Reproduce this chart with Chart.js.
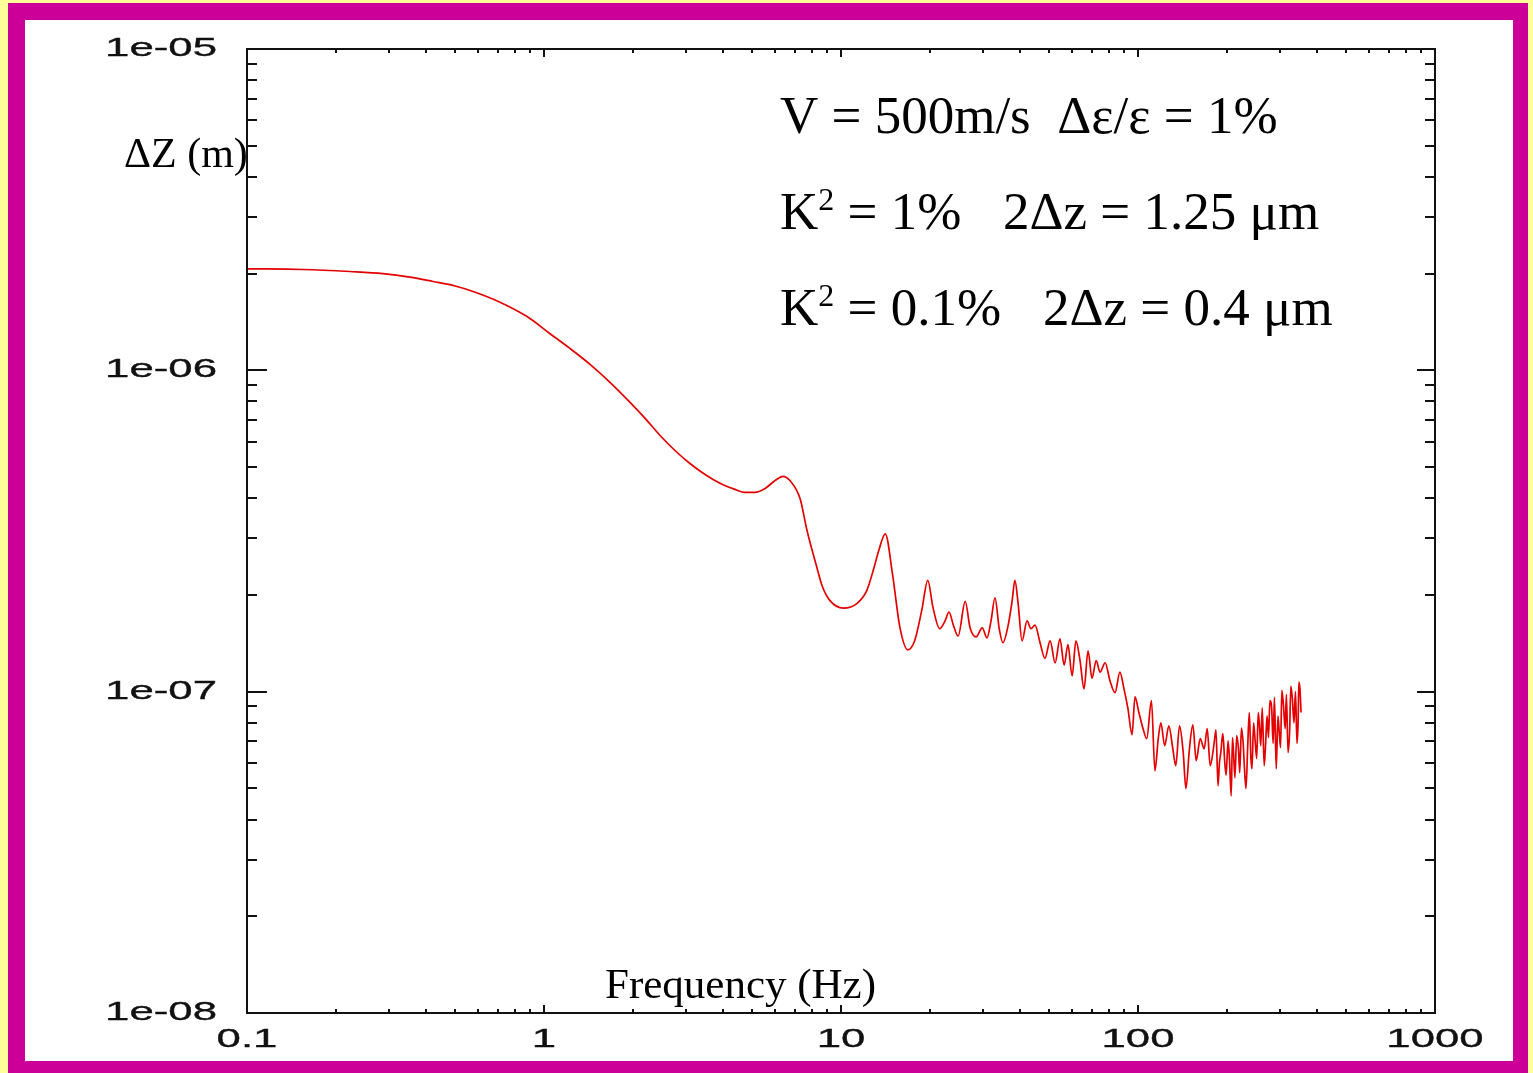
<!DOCTYPE html>
<html>
<head>
<meta charset="utf-8">
<script src="https://cdn.jsdelivr.net/npm/chart.js@4.4.1/dist/chart.umd.min.js"></script>
<style>
  html, body { margin: 0; padding: 0; background: #ffff99; overflow: hidden; }
  #frame { position: absolute; left: 8px; top: 3px; width: 1488px; height: 1041px;
           border: 17px solid #cc0099; border-right-width: 15px; background: #fff; }
  #chart { position: absolute; left: 0; top: 0; }
</style>
</head>
<body>
<div id="frame"></div>
<canvas id="chart" width="1533" height="1073"></canvas>
<script>
// frekuensi (Hz) dan amplitudo dZ (m)
const freqHz = [
  0.1, 0.154, 0.222, 0.287, 0.354, 0.423, 0.502, 0.577, 0.711, 0.877,
  1.048, 1.223, 1.429, 1.668, 1.949, 2.19, 2.46, 2.76, 3.10, 3.486,
  3.914, 4.396, 4.75, 5.13, 5.55, 6.0, 6.38, 6.73, 7.28,
  7.68, 8.30, 8.63, 9.18, 10.2, 11.3, 12.2, 12.9, 13.4, 14.1,
  14.9, 15.8, 16.8, 17.7, 18.7, 19.6, 20.4, 21.5, 22.4, 23.1,
  23.9, 24.8, 26.2, 27.2, 28.5, 29.9, 31.0, 32.0, 33.0, 34.1,
  35.1, 36.5, 37.7, 38.5, 39.5, 40.7, 42.3, 43.6, 45.0, 46.8,
  48.6, 50.6, 52.6, 54.6, 56.4, 58.1, 60.0, 61.8, 63.8, 65.8,
  67.9, 70.0, 72.3, 74.5, 77.5, 80.5, 83.7, 86.9, 89.7, 92.5,
  95.5, 97.7, 100.7, 104, 107, 111, 114, 117, 119.4, 123,
  127, 131, 134, 138, 142, 145, 149, 153, 157, 162,
  167, 171, 175, 180, 183, 186, 188, 190, 193, 196,
  198, 201, 203, 206, 208, 210, 212, 215, 218, 220,
  223, 226, 228, 231, 234, 237, 240, 242, 245, 248,
  251, 254, 257, 259, 262, 266, 269, 272, 275, 278,
  282, 285, 288, 292, 296, 299, 302, 305, 309, 313,
  316, 320, 324, 327, 331, 335, 339, 343, 346, 348,
  351, 354
];
const dzMeters = [
  2.07e-6, 2.06e-6, 2.03e-6, 2.00e-6, 1.95e-6, 1.89e-6, 1.83e-6, 1.76e-6, 1.63e-6, 1.47e-6,
  1.30e-6, 1.17e-6, 1.044e-6, 9.18e-7, 7.95e-7, 7.09e-7, 6.27e-7, 5.63e-7, 5.13e-7, 4.74e-7,
  4.45e-7, 4.26e-7, 4.17e-7, 4.17e-7, 4.29e-7, 4.54e-7, 4.68e-7, 4.54e-7, 3.99e-7,
  3.18e-7, 2.43e-7, 2.14e-7, 1.92e-7, 1.82e-7, 1.88e-7, 2.06e-7, 2.42e-7, 2.75e-7, 3.10e-7,
  2.33e-7, 1.58e-7, 1.35e-7, 1.44e-7, 1.79e-7, 2.22e-7, 1.83e-7, 1.57e-7, 1.66e-7, 1.77e-7,
  1.61e-7, 1.49e-7, 1.91e-7, 1.58e-7, 1.48e-7, 1.58e-7, 1.47e-7, 1.66e-7, 1.96e-7, 1.57e-7,
  1.42e-7, 1.60e-7, 1.92e-7, 2.22e-7, 1.87e-7, 1.44e-7, 1.66e-7, 1.57e-7, 1.61e-7, 1.42e-7,
  1.27e-7, 1.44e-7, 1.23e-7, 1.46e-7, 1.21e-7, 1.40e-7, 1.12e-7, 1.44e-7, 1.25e-7, 1.02e-7,
  1.34e-7, 1.10e-7, 1.25e-7, 1.15e-7, 1.23e-7, 1.08e-7, 9.93e-8, 1.15e-7, 1.02e-7, 8.86e-8,
  7.35e-8, 9.64e-8, 8.61e-8, 7.67e-8, 7.14e-8, 9.38e-8, 5.67e-8, 7.14e-8, 8.0e-8, 6.79e-8,
  7.83e-8, 6.64e-8, 5.88e-8, 7.83e-8, 6.46e-8, 4.99e-8, 6.64e-8, 7.89e-8, 6.10e-8, 7.14e-8,
  6.64e-8, 7.67e-8, 5.88e-8, 6.79e-8, 7.6e-8, 5.09e-8, 6.0e-8, 6.46e-8, 7.4e-8, 6.01e-8,
  5.5e-8, 7.03e-8, 6.3e-8, 4.74e-8, 7.2e-8, 6.32e-8, 5.4e-8, 7.30e-8, 6.6e-8, 5.60e-8,
  7.7e-8, 6.9e-8, 5.9e-8, 4.99e-8, 6.7e-8, 8.61e-8, 6.2e-8, 5.75e-8, 8.0e-8, 7.03e-8,
  6.2e-8, 8.61e-8, 7.6e-8, 6.79e-8, 8.9e-8, 5.88e-8, 6.9e-8, 8.41e-8, 7.2e-8, 9.38e-8,
  8.8e-8, 6.9e-8, 9.6e-8, 5.75e-8, 8.4e-8, 7.45e-8, 6.7e-8, 1.01e-7, 9.0e-8, 7.67e-8,
  9.8e-8, 6.46e-8, 7.5e-8, 1.04e-7, 9.5e-8, 8.0e-8, 1.0e-7, 6.9e-8, 8.0e-8, 1.07e-7,
  1.02e-7, 8.61e-8
];

// label sumbu
const xTickValues = [0.1, 1, 10, 100, 1000];
const xTickLabels = ['0.1', '1', '10', '100', '1000'];
const yTickValues = [1e-8, 1e-7, 1e-6, 1e-5];
const yTickLabels = ['1e-08', '1e-07', '1e-06', '1e-05'];
const xTitle = 'Frequency (Hz)';
const yTitle = '\u0394Z (m)';

function stretchText(ctx, txt, x, y, align, sx) {
    ctx.save();
    ctx.translate(x, y);
    ctx.scale(sx, 1);
    ctx.textAlign = align;
    ctx.fillText(txt, 0, 0);
    ctx.strokeText(txt, 0, 0);
    ctx.restore();
}

// bingkai, tick di dalam, label dan teks
const decorPlugin = {
    id: 'decor',
    afterDatasetsDraw(chart) {
        const { ctx, chartArea: a, scales: { x, y } } = chart;
        ctx.save();
        ctx.strokeStyle = '#111';
        ctx.lineWidth = 2;
        ctx.strokeRect(a.left, a.top, a.right - a.left, a.bottom - a.top);

        ctx.beginPath();
        // tick sumbu x (atas dan bawah)
        for (let i = 0; i < xTickValues.length; i++) {
            for (let k = 1; k <= 9; k++) {
                const v = xTickValues[i] * k;
                if (v > x.max * 1.0001) break;
                const px = Math.round(x.getPixelForValue(v));
                const len = k === 1 ? 8 : 4;
                ctx.moveTo(px, a.bottom); ctx.lineTo(px, a.bottom - len);
                ctx.moveTo(px, a.top); ctx.lineTo(px, a.top + len);
            }
        }
        // tick sumbu y (kiri dan kanan)
        for (let i = 0; i < yTickValues.length; i++) {
            for (let k = 1; k <= 9; k++) {
                const v = yTickValues[i] * k;
                if (v > y.max * 1.0001) break;
                const py = Math.round(y.getPixelForValue(v));
                ctx.moveTo(a.left, py); ctx.lineTo(a.left + (k === 1 ? 20 : 10), py);
                ctx.moveTo(a.right, py); ctx.lineTo(a.right - (k === 1 ? 18 : 10), py);
            }
        }
        ctx.stroke();

        // label tick
        ctx.fillStyle = '#111';
        ctx.strokeStyle = '#111';
        ctx.lineWidth = 0.35;
        ctx.font = '25px "Liberation Sans", Arial, sans-serif';
        ctx.textBaseline = 'middle';
        yTickValues.forEach((v, i) => {
            stretchText(ctx, yTickLabels[i], 217, y.getPixelForValue(v), 'right', 1.75);
        });
        xTickValues.forEach((v, i) => {
            stretchText(ctx, xTickLabels[i], x.getPixelForValue(v), 1040, 'center', 1.75);
        });

        // judul sumbu
        ctx.textBaseline = 'alphabetic';
        ctx.textAlign = 'left';
        ctx.fillStyle = '#000';
        ctx.font = '42px "Liberation Serif", "Times New Roman", serif';
        ctx.fillText(yTitle, 124, 167);
        ctx.font = '43px "Liberation Serif", "Times New Roman", serif';
        ctx.fillText(xTitle, 605, 998);

        // keterangan parameter
        const big = '53px "Liberation Serif", "Times New Roman", serif';
        const sup = '32px "Liberation Serif", "Times New Roman", serif';
        ctx.font = big;
        ctx.fillText('V = 500m/s  \u0394\u03B5/\u03B5 = 1%', 780, 133);

        const rows = [
            { base: 229, left: ' = 1%', right: '2\u0394z = 1.25 \u03BCm', rx: 1003 },
            { base: 325, left: ' = 0.1%', right: '2\u0394z = 0.4 \u03BCm', rx: 1043 }
        ];
        rows.forEach(r => {
            ctx.font = big;
            ctx.fillText('K', 780, r.base);
            let cx = 780 + ctx.measureText('K').width;
            ctx.font = sup;
            ctx.fillText('2', cx, r.base - 19);
            cx += ctx.measureText('2').width;
            ctx.font = big;
            ctx.fillText(r.left, cx, r.base);
            ctx.fillText(r.right, r.rx, r.base);
        });
        ctx.restore();
    }
};

const ctx = document.getElementById('chart').getContext('2d');
new Chart(ctx, {
    type: 'line',
    data: {
        datasets: [{
            data: freqHz.map((f, i) => ({ x: f, y: dzMeters[i] })),
            borderColor: 'rgb(228, 0, 0)',
            borderWidth: 1.7,
            pointRadius: 0,
            cubicInterpolationMode: 'monotone',
            fill: false
        }]
    },
    options: {
        responsive: false,
        animation: false,
        layout: { padding: { left: 247, top: 49, right: 98, bottom: 60 } },
        scales: {
            x: { type: 'logarithmic', min: 0.1, max: 1000, display: false },
            y: { type: 'logarithmic', min: 1e-8, max: 1e-5, display: false }
        },
        plugins: {
            legend: { display: false },
            tooltip: { enabled: false }
        }
    },
    plugins: [decorPlugin]
});
</script>
</body>
</html>
